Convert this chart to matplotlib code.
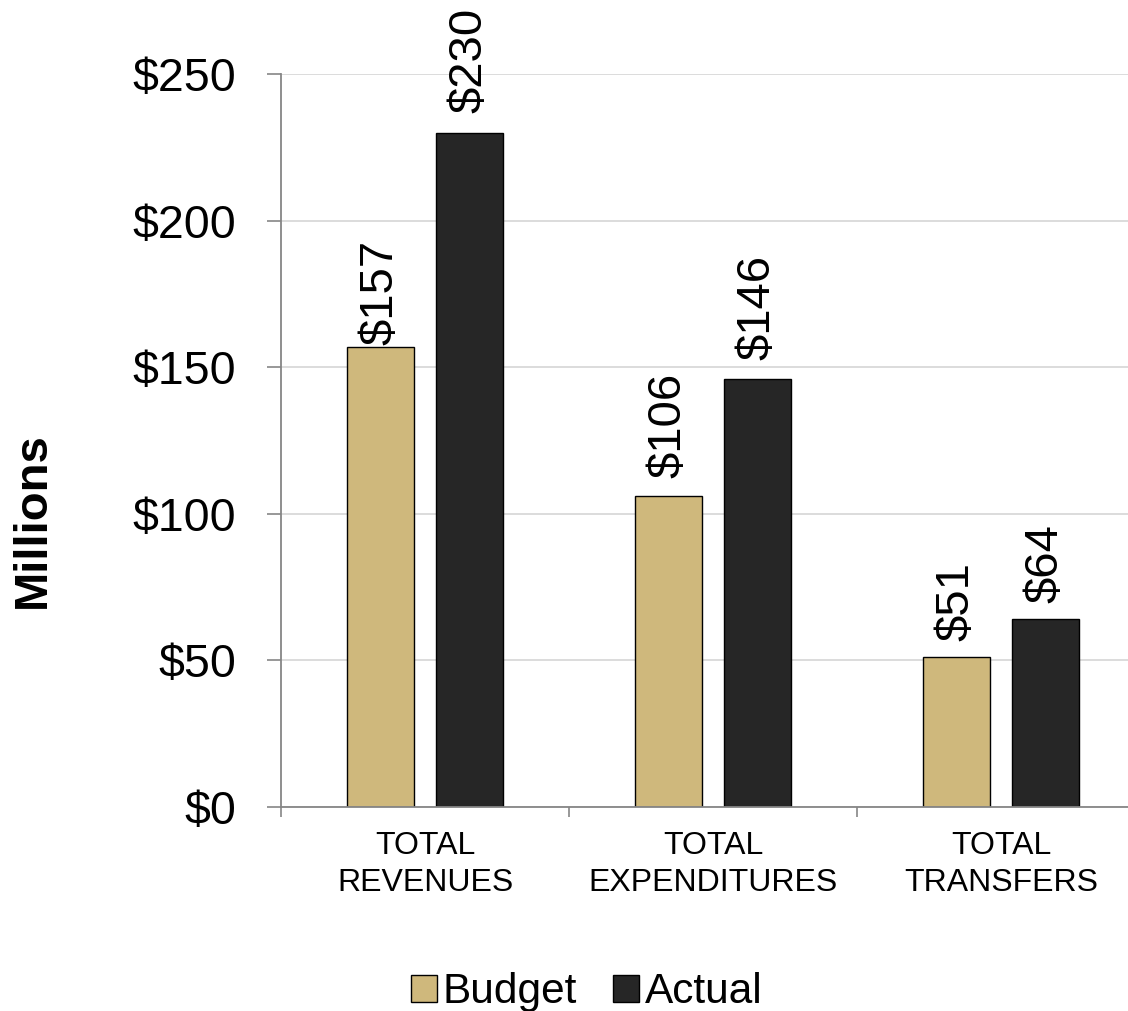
import matplotlib
matplotlib.use("Agg")
import matplotlib.pyplot as plt
import numpy as np
from matplotlib.patches import Patch

categories = ["TOTAL\nREVENUES", "TOTAL\nEXPENDITURES", "TOTAL\nTRANSFERS"]
budget = [157, 106, 51]
actual = [230, 146, 64]
series_names = ["Budget", "Actual"]
yticks = [0, 50, 100, 150, 200, 250]
ytick_labels = ["$0", "$50", "$100", "$150", "$200", "$250"]

# label gap above bar (points), style only
budget_label_gap = [1, 13, 12]
actual_label_gap = [14, 13.5, 11.5]

plt.rcParams['font.family'] = ['Liberation Sans', 'DejaVu Sans']

W, H = 1128, 1011
fig = plt.figure(figsize=(W / 100, H / 100), dpi=100)
ax = fig.add_axes([281 / W, (H - 807) / H, 864 / W, (807 - 74) / H])

gold = "#CFB87C"
dark = "#262626"
x = np.arange(len(categories))
bw = 0.232
off = 0.154
b1 = ax.bar(x - off, budget, bw, color=gold, edgecolor="black", linewidth=1.0, zorder=3)
b2 = ax.bar(x + off, actual, bw, color=dark, edgecolor="black", linewidth=1.0, zorder=3)

for bars, vals, gaps in ((b1, budget, budget_label_gap), (b2, actual, actual_label_gap)):
    for rect, v, g in zip(bars, vals, gaps):
        ax.annotate(f"${v}", (rect.get_x() + rect.get_width() / 2, v),
                    xytext=(0, g), textcoords="offset points",
                    rotation=90, ha="center", va="bottom", fontsize=34, color="black")

ax.set_xlim(-0.5, 2.5)
ax.set_ylim(0, 250)
ax.set_yticks(yticks)
ax.set_yticklabels(ytick_labels, fontsize=33.5)
ax.set_xticks(x)
ax.set_xticklabels(categories, fontsize=23, linespacing=1.34)
ax.set_xticks([-0.5, 0.5, 1.5, 2.5], minor=True)
ax.tick_params(axis="x", which="major", length=0, pad=17)
ax.tick_params(axis="x", which="minor", length=7, width=1.2, color="#868686")
ax.tick_params(axis="y", length=10, width=1.2, color="#868686", pad=22)

ax.grid(axis="y", color="#D9D9D9", linewidth=1.3, zorder=0)
ax.set_axisbelow(True)
for s in ("top", "right"):
    ax.spines[s].set_visible(False)
for s in ("left", "bottom"):
    ax.spines[s].set_color("#868686")
    ax.spines[s].set_linewidth(1.3)
ax.spines["bottom"].set_zorder(4)

fig.text(33 / W, 1 - 520 / H, "Millions", rotation=90, ha="center", va="center",
         fontsize=34, fontweight="bold")

handles = [Patch(facecolor=gold, edgecolor="black", linewidth=1.0),
           Patch(facecolor=dark, edgecolor="black", linewidth=1.0)]
fig.legend(handles, series_names, loc="center", bbox_to_anchor=(587 / W, 1 - 992 / H),
           ncol=2, frameon=False, fontsize=30.5, handlelength=0.6, handleheight=0.6,
           handletextpad=0.15, columnspacing=0.85, borderpad=0, borderaxespad=0)

fig.savefig("out.png", dpi=100)
